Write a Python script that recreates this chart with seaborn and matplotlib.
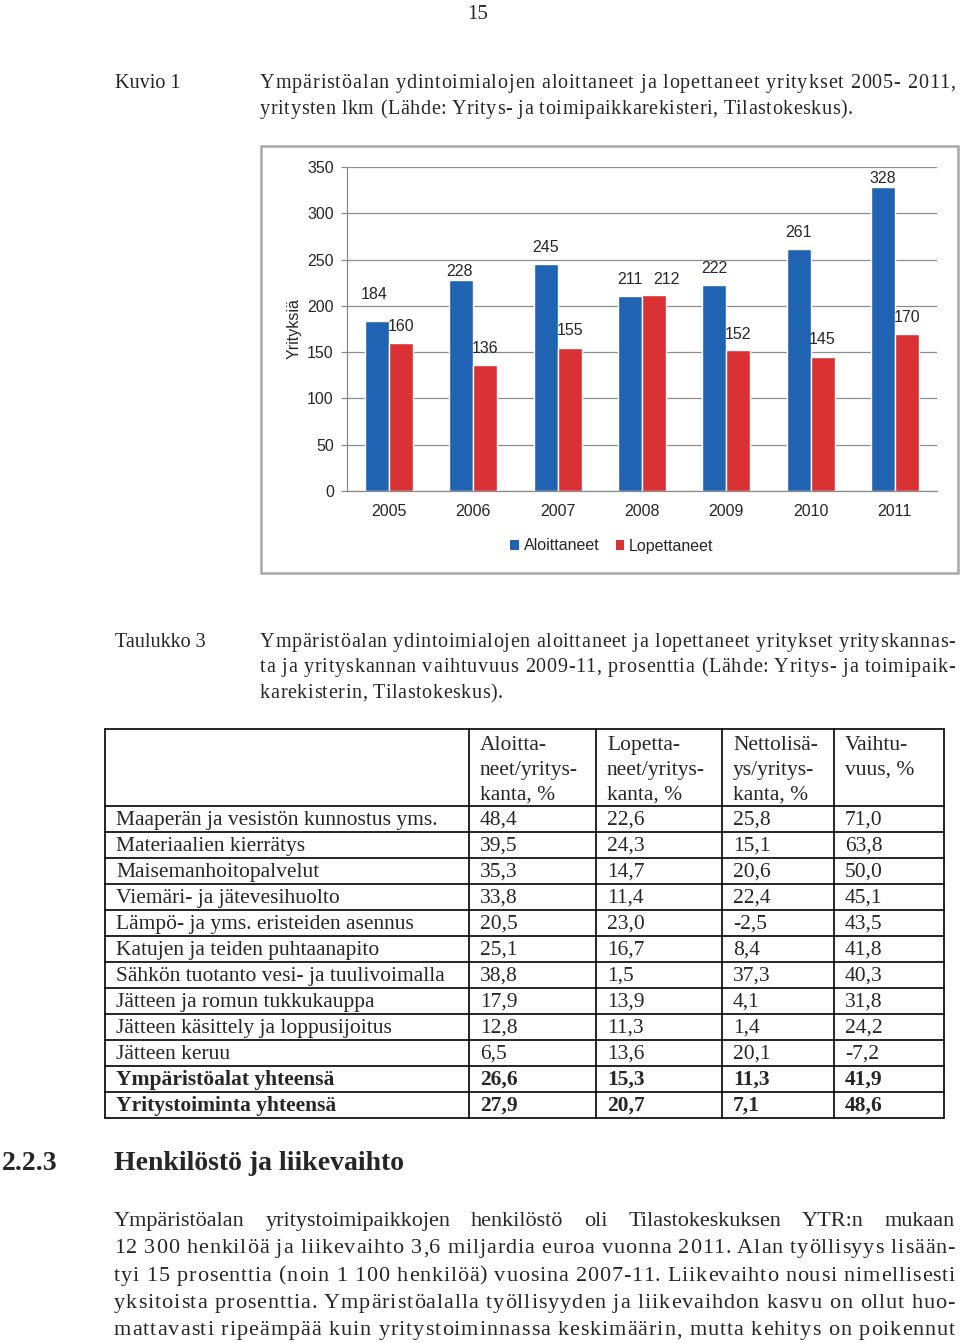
import numpy as np
import pandas as pd
import matplotlib
matplotlib.use("Agg")
import matplotlib.pyplot as plt
import seaborn as sns
from matplotlib.patches import Rectangle, Patch
from matplotlib.lines import Line2D

# ---------------- data ----------------
years = ["2005", "2006", "2007", "2008", "2009", "2010", "2011"]
aloittaneet = [184, 228, 245, 211, 222, 261, 328]
lopettaneet = [160, 136, 155, 212, 152, 145, 170]
series_names = ["Aloittaneet", "Lopettaneet"]
y_ticks = [0, 50, 100, 150, 200, 250, 300, 350]

table_header = [
    ["Aloitta-", "neet/yritys-", "kanta, %"],
    ["Lopetta-", "neet/yritys-", "kanta, %"],
    ["Nettolisä-", "ys/yritys-", "kanta, %"],
    ["Vaihtu-", "vuus, %"],
]
row_labels = [
    "Maaperän ja vesistön kunnostus yms.",
    "Materiaalien kierrätys",
    "Maisemanhoitopalvelut",
    "Viemäri- ja jätevesihuolto",
    "Lämpö- ja yms. eristeiden asennus",
    "Katujen ja teiden puhtaanapito",
    "Sähkön tuotanto vesi- ja tuulivoimalla",
    "Jätteen ja romun tukkukauppa",
    "Jätteen käsittely ja loppusijoitus",
    "Jätteen keruu",
    "Ympäristöalat yhteensä",
    "Yritystoiminta yhteensä",
]
col_aloittaneet = ["48,4", "39,5", "35,3", "33,8", "20,5", "25,1", "38,8", "17,9", "12,8", "6,5", "26,6", "27,9"]
col_lopettaneet = ["22,6", "24,3", "14,7", "11,4", "23,0", "16,7", "1,5", "13,9", "11,3", "13,6", "15,3", "20,7"]
col_nettolisays = ["25,8", "15,1", "20,6", "22,4", "-2,5", "8,4", "37,3", "4,1", "1,4", "20,1", "11,3", "7,1"]
col_vaihtuvuus = ["71,0", "63,8", "50,0", "45,1", "43,5", "41,8", "40,3", "31,8", "24,2", "-7,2", "41,9", "48,6"]
bold_rows = [False] * 10 + [True, True]

# ---------------- page setup ----------------
W, H = 960, 1343
sns.set_theme(style="white")
plt.rcParams["font.family"] = ["Liberation Serif", "DejaVu Serif"]
fig = plt.figure(figsize=(W / 100, H / 100), dpi=100)
fig.patch.set_facecolor("white")
renderer = fig.canvas.get_renderer()

def fx(x):
    return x / W

def fy(y):
    return 1 - y / H

_probe = fig.text(0, 0, "")

def text_w(s, size, weight="normal"):
    _probe.set_text(s)
    _probe.set_fontsize(size)
    _probe.set_fontweight(weight)
    return _probe.get_window_extent(renderer).width

def put_line(text, x0, y, x1=None, size=15, weight="normal", **kw):
    """Plain or word-justified line (pixel coords, baseline)."""
    if x1 is None:
        fig.text(fx(x0), fy(y), text, va="baseline", ha="left",
                 fontsize=size, fontweight=weight, **kw)
        return
    words = text.split(" ")
    widths = [text_w(w, size, weight) for w in words]
    gap = (x1 - x0 - sum(widths)) / max(len(words) - 1, 1)
    x = x0
    for w, wd in zip(words, widths):
        fig.text(fx(x), fy(y), w, va="baseline", ha="left", fontsize=size,
                 fontweight=weight, **kw)
        x += wd + gap

def put_tracked(text, x0, y, x1, size=14.5):
    """Line stretched to width by letter spacing (tracking)."""
    n = len(text)
    total = text_w(text, size)
    track = (x1 - x0 - total) / max(n - 1, 1)
    for i, ch in enumerate(text):
        if ch in (" ", "\u00a0"):
            continue
        left = text_w(text[:i + 1], size) - text_w(ch, size)
        fig.text(fx(x0 + left + track * i), fy(y), ch, va="baseline", ha="left",
                 fontsize=size)

# page number
fig.text(fx(478), fy(19), "15", ha="center", va="baseline", fontsize=15)

# figure caption
put_line("Kuvio 1", 115, 88, size=14.5)
put_tracked("Ympäristöalan ydintoimialojen aloittaneet ja lopettaneet yritykset 2005- 2011,", 260, 88, 955)
put_tracked("yritysten lkm (Lähde: Yritys- ja toimipaikkarekisteri, Tilastokeskus).", 260, 114, 853)

# ---------------- chart ----------------
fig.add_artist(Rectangle((fx(261), fy(573)), (958 - 261) / W, (573 - 146) / H,
                         transform=fig.transFigure, fill=False,
                         edgecolor="#a8a8a8", linewidth=1.8))

blue, red = "#1F63B2", "#DA3135"
sans = ["Liberation Sans", "DejaVu Sans"]
txtc = "#262626"
fs = 11.5

ax = fig.add_axes([fx(347), fy(491), (937 - 347) / W, (491 - 167) / H])
df = pd.DataFrame({
    "Vuosi": years * 2,
    "Sarja": [series_names[0]] * len(years) + [series_names[1]] * len(years),
    "Yrityksiä": aloittaneet + lopettaneet,
})
sns.barplot(data=df, x="Vuosi", y="Yrityksiä", hue="Sarja", hue_order=series_names,
            palette=[blue, red], width=0.57, saturation=1, ax=ax, legend=False,
            errorbar=None)
ax.set_facecolor("white")
ax.set_ylim(0, 350)
ax.set_xlim(-0.5, len(years) - 0.5)
ax.set_yticks(y_ticks)
ax.yaxis.grid(True, color="#8e8e8e", linewidth=0.9)
ax.xaxis.grid(False)
ax.set_axisbelow(True)
for s in ["top", "right"]:
    ax.spines[s].set_visible(False)
for s in ["left", "bottom"]:
    ax.spines[s].set_color("#8a8a8a")
    ax.spines[s].set_linewidth(0.9)
ax.set_xlabel("")
ax.set_ylabel("")
ax.set_xticks(np.arange(-0.5, len(years), 1), minor=True)
ax.tick_params(axis="x", which="major", length=0, pad=9.5, labelsize=fs, labelcolor=txtc)
ax.tick_params(axis="x", which="minor", length=5, width=0.9, color="#8a8a8a", direction="out")
ax.tick_params(axis="y", which="major", length=4, width=0.9, color="#8a8a8a",
               direction="out", pad=5.5, labelsize=fs, labelcolor=txtc, left=True)
for lab in ax.get_xticklabels() + ax.get_yticklabels():
    lab.set_fontfamily(sans)
ax.text((294 - 347) / (937 - 347), 0.5, "Yrityksiä", rotation=90, ha="center",
        va="center", fontsize=fs, family=sans, color=txtc, transform=ax.transAxes)

# value labels (offsets in pixels from bar top)
label_dx = [[-3, -2, 0, 0, 0, 0, 0], [0, 0, 0, 12, 0, 0, 0]]
label_dy = [[26, 8, 17, 16, 17, 17, 9], [16, 17, 17, 15, 16, 17, 16]]
for si, cont in enumerate(ax.containers):
    for bi, bar in enumerate(cont):
        hgt = bar.get_height()
        ax.annotate(f"{int(round(hgt))}", (bar.get_x() + bar.get_width() / 2, hgt),
                    xytext=(label_dx[si][bi], label_dy[si][bi]), textcoords="offset pixels",
                    ha="center", va="center", fontsize=fs, family=sans, color=txtc)

handles = [Patch(facecolor=blue, edgecolor="none"), Patch(facecolor=red, edgecolor="none")]
leg = fig.legend(handles, series_names, loc="center", bbox_to_anchor=(fx(612), fy(546)),
                 ncol=2, frameon=False, handlelength=0.55, handleheight=0.55,
                 handletextpad=0.3, columnspacing=1.0, prop={"family": sans, "size": fs})
for t in leg.get_texts():
    t.set_color(txtc)

# ---------------- table caption ----------------
put_line("Taulukko 3", 115, 647, size=14.5)
put_tracked("Ympäristöalan ydintoimialojen aloittaneet ja lopettaneet yritykset yrityskannas-", 260, 647, 955)
put_tracked("ta ja yrityskannan vaihtuvuus 2009-11, prosenttia (Lähde: Yritys- ja toimipaik-", 260, 672, 955)
put_tracked("karekisterin, Tilastokeskus).", 260, 698, 503)

# ---------------- table ----------------
col_x = [105, 469, 596, 722, 834, 944]
top_y, head_y, row_h = 729, 806, 26
n_rows = len(row_labels)
bottom_y = head_y + n_rows * row_h
lkw = dict(color="black", linewidth=1.2, transform=fig.transFigure)
for x in col_x:
    fig.add_artist(Line2D([fx(x), fx(x)], [fy(top_y), fy(bottom_y)], **lkw))
for y in [top_y] + [head_y + i * row_h for i in range(n_rows + 1)]:
    fig.add_artist(Line2D([fx(col_x[0]), fx(col_x[-1])], [fy(y), fy(y)], **lkw))

tfs = 15.5
for ci, lines in enumerate(table_header):
    for li, s in enumerate(lines):
        fig.text(fx(col_x[ci + 1] + 11), fy(750 + 25 * li), s, va="baseline",
                 ha="left", fontsize=tfs)

columns = [row_labels, col_aloittaneet, col_lopettaneet, col_nettolisays, col_vaihtuvuus]
for ri in range(n_rows):
    yb = head_y + ri * row_h + 19
    for ci, col in enumerate(columns):
        fig.text(fx(col_x[ci] + 11), fy(yb), col[ri], va="baseline", ha="left",
                 fontsize=tfs, fontweight="bold" if bold_rows[ri] else "normal")

# ---------------- section heading and text ----------------
put_line("2.2.3", 2, 1170, size=20, weight="bold")
put_line("Henkilöstö ja liikevaihto", 114, 1170, size=20, weight="bold")

para = [
    "Ympäristöalan yritystoimipaikkojen henkilöstö oli Tilastokeskuksen YTR:n mukaan",
    "12\u00a0300 henkilöä ja liikevaihto 3,6 miljardia euroa vuonna 2011. Alan työllisyys lisään-",
    "tyi 15 prosenttia (noin 1\u00a0100 henkilöä) vuosina 2007-11. Liikevaihto nousi nimellisesti",
    "yksitoista prosenttia. Ympäristöalalla työllisyyden ja liikevaihdon kasvu on ollut huo-",
    "mattavasti ripeämpää kuin yritystoiminnassa keskimäärin, mutta kehitys on poikennut",
]
para_mode = ["words", "chars", "chars", "chars", "chars"]
for i, line in enumerate(para):
    yb = 1226 + 27.3 * i
    if para_mode[i] == "words":
        put_line(line, 114, yb, 955, size=16)
    else:
        put_tracked(line, 114, yb, 955, size=16)

_probe.set_text("")
fig.savefig("out.png", dpi=100, facecolor="white")
